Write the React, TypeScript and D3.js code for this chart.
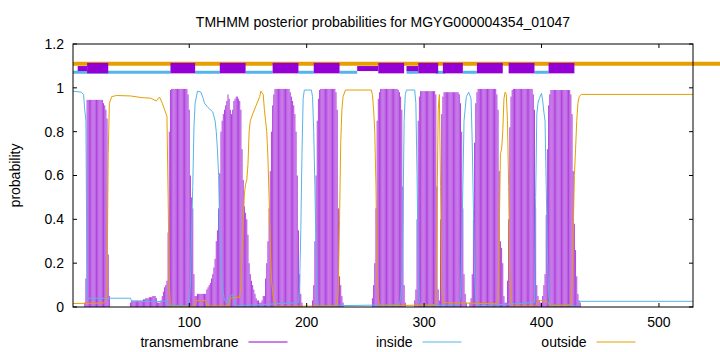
import * as d3 from "d3";

// TMHMM posterior probabilities, gnuplot-style plot

const SEQ_END = 529;
const X_TICKS = [100, 200, 300, 400, 500];
const Y_TICKS = [0, 0.2, 0.4, 0.6, 0.8, 1, 1.2];
const Y_TICK_LABELS = ["0", "0.2", "0.4", "0.6", "0.8", "1", "1.2"];

// transmembrane probability, per residue, as [first residue, values]
const TM_RUNS: [number, number[]][] = [
  [11, [0.02, 0.13, 0.945, 0.945, 0.945, 0.945, 0.945, 0.945, 0.945, 0.945, 0.945, 0.945, 0.945, 0.945, 0.945, 0.945,
    0.93, 0.92, 0.9, 0.86, 0.24, 0.05]],
  [50, [0.02, 0.03, 0.03, 0.03, 0.03, 0.03, 0.03, 0.03, 0.03, 0.03, 0.03, 0.035, 0.035, 0.04, 0.04, 0.04, 0.045, 0.045,
    0.045, 0.05, 0.05, 0.05, 0.04, 0.02, 0.02, 0.02, 0.03, 0.05, 0.07, 0.09, 0.1]],
  [81, [0.12, 0.34, 0.8, 0.99, 0.995, 0.995, 0.995, 0.995, 0.995, 0.995, 0.995, 0.995, 0.995, 0.995, 0.995, 0.995,
    0.995, 0.995, 0.97, 0.9, 0.6, 0.5, 0.45, 0.15, 0.05, 0.05]],
  [107, [0.06, 0.06, 0.06, 0.06, 0.06, 0.06, 0.06, 0.06, 0.08, 0.09, 0.1, 0.11, 0.13, 0.15, 0.18, 0.22, 0.3, 0.35, 0.45,
    0.61, 0.8, 0.85, 0.88, 0.9, 0.92, 0.94, 0.97, 0.95, 0.9, 0.88, 0.9, 0.94, 0.95, 0.96, 0.96, 0.95, 0.94, 0.9, 0.72,
    0.58, 0.46, 0.43, 0.4, 0.33, 0.2, 0.15, 0.12, 0.1, 0.08, 0.06, 0.04, 0.03, 0.03, 0.02, 0.02, 0.03, 0.05]],
  [164, [0.05, 0.13, 0.2, 0.3, 0.45, 0.62, 0.8, 0.92, 0.97, 0.995, 0.995, 0.995, 0.995, 0.995, 0.995, 0.995, 0.995,
    0.995, 0.995, 0.995, 0.995, 0.995, 0.98, 0.96, 0.94, 0.92, 0.88, 0.8, 0.6, 0.35, 0.15, 0.06, 0.02]],
  [205, [0.03, 0.1, 0.3, 0.6, 0.85, 0.95, 0.99, 0.995, 0.995, 0.995, 0.995, 0.995, 0.995, 0.995, 0.995, 0.995, 0.995,
    0.995, 0.995, 0.995, 0.98, 0.9, 0.45, 0.14, 0.1, 0.05, 0.02]],
  [256, [0.04, 0.1, 0.2, 0.45, 0.85, 0.95, 0.98, 0.995, 0.995, 0.995, 0.995, 0.995, 0.995, 0.995, 0.995, 0.995, 0.995,
    0.995, 0.995, 0.995, 0.995, 0.995, 0.99, 0.98, 0.96, 0.9, 0.55, 0.1, 0.02]],
  [292, [0.03, 0.08, 0.4, 0.85, 0.96, 0.985, 0.985, 0.985, 0.985, 0.985, 0.985, 0.985, 0.985, 0.985, 0.985, 0.985,
    0.985, 0.985, 0.97, 0.55, 0.08, 0.03, 0.4, 0.88, 0.96, 0.98, 0.98, 0.98, 0.98, 0.98, 0.98, 0.98, 0.98, 0.98, 0.98,
    0.98, 0.98, 0.98, 0.97, 0.93, 0.8, 0.45, 0.15, 0.06, 0.02]],
  [339, [0.02, 0.04, 0.15, 0.4, 0.75, 0.93, 0.98, 0.995, 0.995, 0.995, 0.995, 0.995, 0.995, 0.995, 0.995, 0.995, 0.995,
    0.995, 0.995, 0.995, 0.995, 0.995, 0.995, 0.97, 0.9, 0.62, 0.3, 0.27, 0.2, 0.05, 0.02]],
  [370, [0.02, 0.12, 0.4, 0.82, 0.96, 0.99, 0.995, 0.995, 0.995, 0.995, 0.995, 0.995, 0.995, 0.995, 0.995, 0.995, 0.995,
    0.995, 0.995, 0.995, 0.995, 0.995, 0.995, 0.97, 0.9, 0.45, 0.1, 0.05, 0.03, 0.02, 0.02]],
  [401, [0.05, 0.1, 0.15, 0.42, 0.72, 0.92, 0.97, 0.99, 0.99, 0.99, 0.99, 0.99, 0.99, 0.99, 0.99, 0.99, 0.99, 0.99, 0.99,
    0.99, 0.99, 0.99, 0.99, 0.99, 0.97, 0.88, 0.62, 0.38, 0.26, 0.14, 0.06, 0.03, 0.02]],
];

// inside probability, [residue, value]
const INSIDE: [number, number][] = [
  [1, 0.985], [8, 0.98], [10, 0.97], [11, 0.9], [12, 0.85], [13, 0.04], [50, 0.04], [51, 0.025], [77, 0.025],
  [80, 0.03], [82, 0.008], [99, 0.005], [100, 0.02], [101, 0.1], [102, 0.35], [103, 0.55], [104, 0.82], [105, 0.93],
  [107, 0.985], [110, 0.98], [112, 0.95], [113, 0.93], [116, 0.91], [120, 0.89], [122, 0.85], [123, 0.8], [124, 0.72],
  [125, 0.6], [126, 0.35], [127, 0.18], [128, 0.1], [130, 0.03], [133, 0.015], [135, 0.05], [137, 0.058], [138, 0.035],
  [140, 0.005], [193, 0.02], [194, 0.1], [195, 0.35], [196, 0.7], [197, 0.95], [198, 0.99], [204, 0.99], [205, 0.96],
  [206, 0.8], [207, 0.55], [208, 0.25], [209, 0.06], [210, 0.005], [279, 0.01], [280, 0.04], [281, 0.1], [282, 0.4],
  [283, 0.85], [284, 0.97], [285, 0.99], [292, 0.99], [293, 0.93], [294, 0.6], [295, 0.15], [296, 0.03], [297, 0.005],
  [330, 0.01], [331, 0.05], [332, 0.25], [333, 0.55], [334, 0.85], [336, 0.96], [338, 0.98], [340, 0.95], [341, 0.75],
  [342, 0.45], [343, 0.15], [344, 0.03], [345, 0.005], [394, 0.02], [395, 0.5], [396, 0.88], [397, 0.93], [398, 0.95],
  [400, 0.975], [401, 0.94], [402, 0.89], [403, 0.85], [404, 0.55], [405, 0.25], [406, 0.07], [407, 0.01], [430, 0.005],
  [432, 0.026], [529, 0.026],
];

// outside probability, [residue, value]
const OUTSIDE: [number, number][] = [
  [1, 0.016], [27, 0.018], [29, 0.03], [30, 0.1], [31, 0.7], [32, 0.93], [34, 0.96], [38, 0.965], [50, 0.963],
  [60, 0.955], [67, 0.953], [70, 0.945], [72, 0.94], [74, 0.955], [75, 0.955], [77, 0.93], [79, 0.9], [81, 0.87],
  [82, 0.5], [83, 0.1], [84, 0.003], [104, 0.003], [105, 0.01], [106, 0.03], [114, 0.03], [115, 0.005], [134, 0.005],
  [135, 0.04], [143, 0.045], [144, 0.1], [145, 0.25], [146, 0.4], [147, 0.52], [148, 0.56], [149, 0.58], [150, 0.65],
  [151, 0.8], [152, 0.85], [154, 0.88], [157, 0.92], [160, 0.96], [161, 0.985], [163, 0.97], [164, 0.9], [165, 0.85],
  [166, 0.8], [167, 0.68], [168, 0.5], [169, 0.3], [170, 0.12], [172, 0.03], [174, 0.003], [225, 0.005], [226, 0.01],
  [227, 0.1], [228, 0.4], [229, 0.75], [230, 0.9], [231, 0.96], [233, 0.99], [255, 0.99], [256, 0.97], [257, 0.9],
  [258, 0.8], [259, 0.55], [260, 0.15], [261, 0.04], [262, 0.005], [310, 0.01], [311, 0.45], [312, 0.9], [313, 0.97],
  [314, 0.55], [315, 0.08], [316, 0.02], [362, 0.015], [363, 0.03], [364, 0.35], [365, 0.7], [366, 0.72], [367, 0.8],
  [368, 0.95], [369, 0.98], [370, 0.97], [371, 0.85], [372, 0.55], [373, 0.15], [374, 0.03], [375, 0.005], [395, 0.005],
  [397, 0.03], [405, 0.025], [407, 0.005], [425, 0.01], [426, 0.1], [427, 0.35], [428, 0.6], [429, 0.72], [430, 0.85],
  [431, 0.93], [432, 0.96], [434, 0.97], [529, 0.97],
];

// predicted topology band above the curves
const TOPO_OUTSIDE: [number, number][] = [[1, 560]];
const TOPO_INSIDE: [number, number][] = [
  [1, 84], [105, 126], [148, 171], [193, 206], [228, 243], [285, 295], [310, 318], [333, 345], [394, 406],
];
const TOPO_TM_THIN: [number, number][] = [[5, 13], [243, 261], [285, 295]];
const TOPO_TM: [number, number][] = [
  [13, 31], [84, 105], [126, 148], [171, 193], [206, 228], [261, 283], [295, 312], [316, 333], [345, 367], [372, 394],
  [406, 428],
];

const LEGEND = [
  { label: "transmembrane", color: "#9400d3" },
  { label: "inside", color: "#56b4e9" },
  { label: "outside", color: "#e69f00" },
];

const W = 720;
const H = 352;
const PLOT = { left: 73, right: 693, top: 44, bottom: 307 };
const FONT = "'Liberation Sans', Arial, sans-serif";

export default function App() {
  const x = d3.scaleLinear().domain([1, SEQ_END]).range([PLOT.left, PLOT.right]);
  const y = d3.scaleLinear().domain([0, 1.2]).range([PLOT.bottom, PLOT.top]);

  const impulses: { r: number; v: number }[] = [];
  TM_RUNS.forEach(([start, vals]) => vals.forEach((v, i) => impulses.push({ r: start + i, v })));

  const line = d3.line<[number, number]>().x((d) => x(d[0])).y((d) => y(d[1]));

  const tick = 4;

  return (
    <div style={{ position: "absolute", left: 0, top: 0 }}>
      <svg width={W} height={H} style={{ display: "block", background: "white" }}>
        {/* TM impulses */}
        <g>
          {impulses.map((d) => (
            <line key={d.r}
              x1={x(d.r)} x2={x(d.r)} y1={y(0)} y2={y(d.v)}
              stroke="#9400d3" strokeWidth={1} strokeOpacity={0.75}
            />
          ))}
        </g>

        {/* inside / outside curves */}
        <path d={line(INSIDE) ?? ""} fill="none" stroke="#56b4e9" strokeWidth={1} />
        <path d={line(OUTSIDE) ?? ""} fill="none" stroke="#e69f00" strokeWidth={1} />

        {/* topology band */}
        {TOPO_INSIDE.map(([a, b]) => (
          <line key={`i${a}`} x1={x(a)} x2={x(b)} y1={y(1.071)} y2={y(1.071)} stroke="#56b4e9" strokeWidth={3} />
        ))}
        {TOPO_OUTSIDE.map(([a, b]) => (
          <line key={`o${a}`} x1={x(a)} x2={x(b)} y1={y(1.11)} y2={y(1.11)} stroke="#e69f00" strokeWidth={4} />
        ))}
        {TOPO_TM_THIN.map(([a, b]) => (
          <line key={`t${a}`} x1={x(a)} x2={x(b)} y1={y(1.088)} y2={y(1.088)} stroke="#9400d3" strokeWidth={5} />
        ))}
        {TOPO_TM.map(([a, b]) => (
          <line key={`m${a}`} x1={x(a)} x2={x(b)} y1={y(1.09)} y2={y(1.09)} stroke="#9400d3" strokeWidth={10.5} />
        ))}

        {/* frame */}
        <rect x={PLOT.left} y={PLOT.top} width={PLOT.right - PLOT.left} height={PLOT.bottom - PLOT.top}
          fill="none" stroke="#000" strokeWidth={1} />

        {/* y ticks */}
        {Y_TICKS.map((t, i) => (
          <g key={t}>
            <line x1={PLOT.left} x2={PLOT.left + tick} y1={y(t)} y2={y(t)} stroke="#000" />
            <line x1={PLOT.right} x2={PLOT.right - tick} y1={y(t)} y2={y(t)} stroke="#000" />
            <text x={PLOT.left - 9} y={y(t)} dy="0.35em" textAnchor="end" fontSize={14} fontFamily={FONT}>
              {Y_TICK_LABELS[i]}
            </text>
          </g>
        ))}

        {/* x ticks */}
        {X_TICKS.map((t) => (
          <g key={t}>
            <line x1={x(t)} x2={x(t)} y1={PLOT.bottom} y2={PLOT.bottom - tick} stroke="#000" />
            <line x1={x(t)} x2={x(t)} y1={PLOT.top} y2={PLOT.top + tick} stroke="#000" />
            <text x={x(t)} y={PLOT.bottom + 20} textAnchor="middle" fontSize={14} fontFamily={FONT}>
              {t}
            </text>
          </g>
        ))}

        {/* title and axis label */}
        <text x={(PLOT.left + PLOT.right) / 2} y={27} textAnchor="middle" fontSize={14} fontFamily={FONT}>
          TMHMM posterior probabilities for MGYG000004354_01047
        </text>
        <text transform={`translate(20,${(PLOT.top + PLOT.bottom) / 2}) rotate(-90)`}
          textAnchor="middle" fontSize={14} fontFamily={FONT}>
          probability
        </text>

        {/* legend */}
        {LEGEND.map((d, i) => {
          const xEnd = 238.5 + i * 174;
          return (
            <g key={d.label}>
              <text x={xEnd} y={346.5} textAnchor="end" fontSize={14} fontFamily={FONT}>{d.label}</text>
              <line x1={xEnd + 10} x2={xEnd + 49} y1={342} y2={342} stroke={d.color} strokeWidth={1} />
            </g>
          );
        })}
      </svg>
    </div>
  );
}
